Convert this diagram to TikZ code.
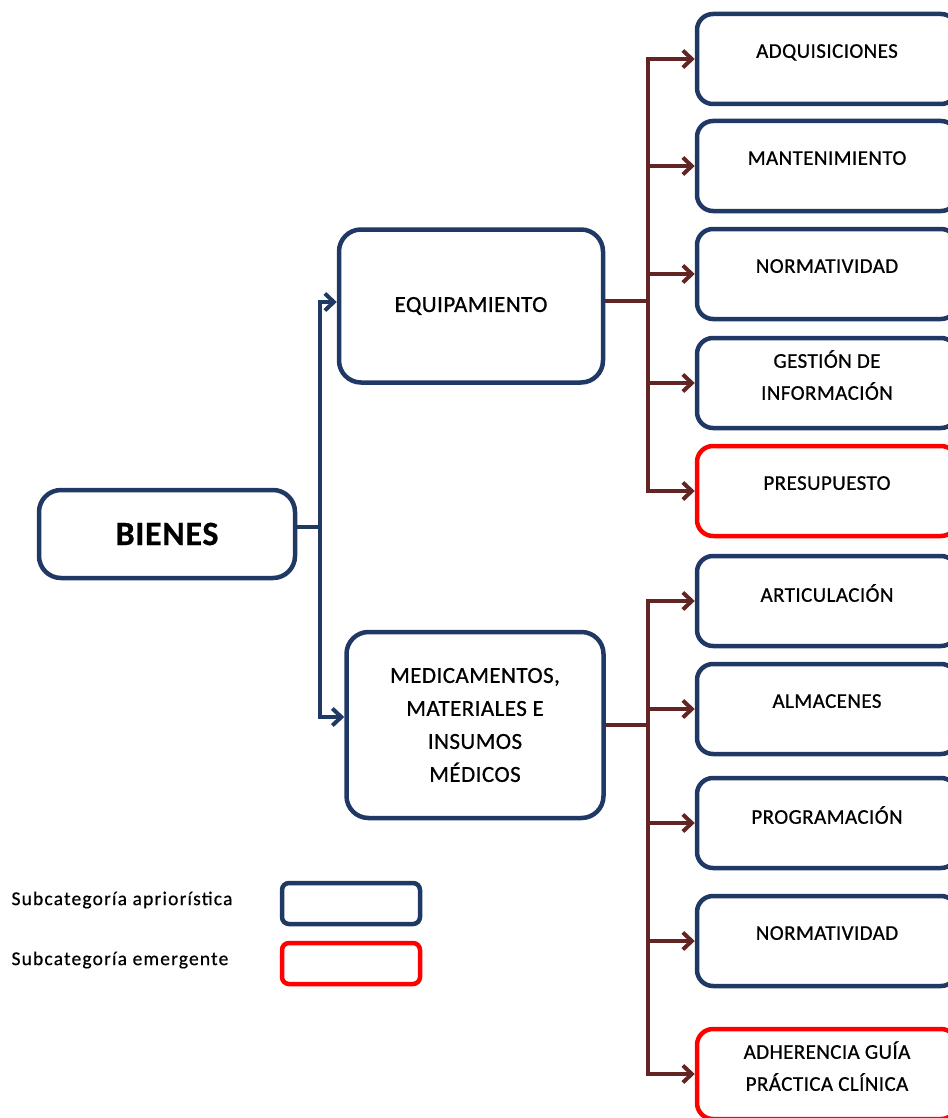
\documentclass[tikz,border=0pt]{standalone}
\usepackage{fontspec}
\setmainfont{Carlito}
\usetikzlibrary{arrows.meta}
\definecolor{navy}{RGB}{31,56,100}
\definecolor{maroon}{RGB}{99,37,35}
\definecolor{brightred}{RGB}{255,0,0}

\begin{document}
\begin{tikzpicture}[x=1pt,y=-1pt,>={Straight Barb[length=9pt,width=17pt]},
	main box/.style={draw=navy,line width=4.5pt,rounded corners=22pt,align=center,
		font=\fontsize{23}{33}\selectfont\addfontfeature{LetterSpace=2,FakeBold=0.7}},
	sub box/.style={draw=navy,line width=4.5pt,rounded corners=16pt,align=center,
		minimum width=260pt,minimum height=90pt,text depth=16pt,
		font=\fontsize{21}{32}\selectfont\addfontfeature{LetterSpace=2,FakeBold=0.7}},
	new box/.style={sub box,draw=brightred},
	key box/.style={line width=4.5pt,rounded corners=7pt,minimum width=138pt,minimum height=41pt},
	key text/.style={anchor=west,font=\fontsize{19.5}{22}\selectfont\addfontfeature{LetterSpace=6,FakeBold=0.5}},
	navy line/.style={draw=navy,line width=4pt},
	maroon line/.style={draw=maroon,line width=4pt}]
	\useasboundingbox (0,0) rectangle (947,1118);

	% categoria y subcategorias principales
	\node[main box,minimum width=256pt,minimum height=88pt](bienes) at (167,534)
		{\fontsize{34}{40}\selectfont\bfseries BIENES};
	\node[main box,minimum width=264pt,minimum height=153pt](equip) at (471,306)
		{EQUIPAMIENTO};
	\node[main box,minimum width=257pt,minimum height=186pt](med) at (475,725)
		{MEDICAMENTOS,\\MATERIALES E\\INSUMOS\\MÉDICOS};

	% subcategorias de equipamiento
	\node[sub box](adq) at (827,59){ADQUISICIONES};
	\node[sub box](mant) at (827,166){MANTENIMIENTO};
	\node[sub box](norm1) at (827,274){NORMATIVIDAD};
	\node[sub box](gest) at (827,383){GESTIÓN DE\\INFORMACIÓN};
	\node[new box](pres) at (827,491){PRESUPUESTO};

	% subcategorias de medicamentos
	\node[sub box](art) at (827,601){ARTICULACIÓN};
	\node[sub box](alm) at (827,709){ALMACENES};
	\node[sub box](prog) at (827,823){PROGRAMACIÓN};
	\node[sub box](norm2) at (827,941){NORMATIVIDAD};
	\node[new box](adh) at (827,1074){ADHERENCIA GUÍA\\PRÁCTICA CLÍNICA};

	% conectores
	\coordinate (bj) at (320,527);
	\coordinate (tj) at (648,301);
	\coordinate (mj) at (648,725);

	\draw[navy line] (bienes.east |- bj) -- (bj);
	\draw[navy line,->] (bj) |- ([yshift=4pt]equip.west);
	\draw[navy line,->] (bj) |- ([yshift=8pt]med.west);

	\draw[maroon line] (equip.east |- tj) -- (tj);
	\foreach \n in {adq,mant,norm1,gest,pres}
		\draw[maroon line,->] (tj) |- (\n.west);
	\draw[maroon line] (med.east |- mj) -- (mj);
	\foreach \n in {art,alm,prog,norm2,adh}
		\draw[maroon line,->] (mj) |- (\n.west);

	% leyenda
	\node[key text](k1 text) at (8,900){Subcategoría apriorística};
	\node[key text](k2 text) at (8,960){Subcategoría emergente};
	\node[key box,draw=navy](k1) at (351,903.5){};
	\node[key box,draw=brightred](k2) at (351,963.5){};
\end{tikzpicture}
\end{document}
